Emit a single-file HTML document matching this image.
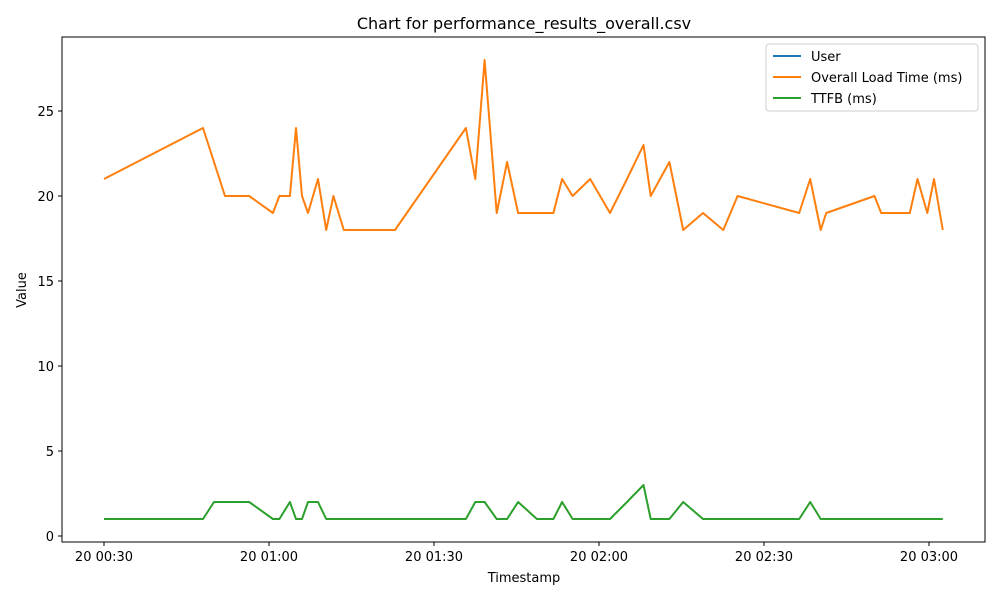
<!DOCTYPE html>
<html><head><meta charset="utf-8"><style>
html,body{margin:0;padding:0;background:#fff;}
svg text{font-family:"DejaVu Sans","Liberation Sans",sans-serif;fill:#000;}
</style></head><body>
<svg id="chart" width="1000" height="600" xmlns="http://www.w3.org/2000/svg">
<rect width="1000" height="600" fill="#fff"/>
<text x="524" y="29" font-size="16" text-anchor="middle">Chart for performance_results_overall.csv</text>
<g id="plot"></g>
<rect x="62" y="37" width="923" height="505" fill="none" stroke="#000" stroke-width="1"/>
<text x="524" y="582" font-size="13" text-anchor="middle">Timestamp</text>
<text x="26" y="290" font-size="13" text-anchor="middle" transform="rotate(-90 26 290)">Value</text>
<g>
<rect x="766" y="44" width="212" height="67" rx="3" fill="#fff" fill-opacity="0.8" stroke="#ccc"/>
<g><line x1="773" y1="56" x2="801" y2="56" stroke="#1f77b4" stroke-width="2"/><text x="811" y="61" font-size="13">User</text></g>
<g><line x1="773" y1="77" x2="801" y2="77" stroke="#ff7f0e" stroke-width="2"/><text x="811" y="82" font-size="13">Overall Load Time (ms)</text></g>
<g><line x1="773" y1="98" x2="801" y2="98" stroke="#2ca02c" stroke-width="2"/><text x="811" y="103" font-size="13">TTFB (ms)</text></g>
</g>
</svg>
<script>
const minutes=[30,48,50,52,56.4,60.7,61.9,63.8,64.9,66,67.1,68.9,70.4,71.7,73.6,82.9,95.8,97.5,99.2,101.4,103.3,105.3,108.7,111.7,113.3,115.2,118.4,122,125.1,128.1,129.4,132.8,135.3,138.9,142.6,145.2,156.4,158.4,160.3,161.3,170.1,171.3,176.5,177.9,179.7,180.9,182.5];
const loadTime=[21,24,22,20,20,19,20,20,24,20,19,21,18,20,18,18,24,21,28,19,22,19,19,19,21,20,21,19,21,23,20,22,18,19,18,20,19,21,18,19,20,19,19,21,19,21,18];
const ttfb=[1,1,2,2,2,1,1,2,1,1,2,2,1,1,1,1,1,2,2,1,1,2,1,1,2,1,1,1,2,3,1,1,2,1,1,1,1,2,1,1,1,1,1,1,1,1,1];
const yTicks=[0,5,10,15,20,25];
const xTickMinutes=[30,60,90,120,150,180];
const xTickLabels=["20 00:30","20 01:00","20 01:30","20 02:00","20 02:30","20 03:00"];
const NS="http://www.w3.org/2000/svg";
const g=document.getElementById('plot');
function xs(m){return 104+(m-30)*5.5;}
function ys(v){return 536-v*17;}
function mk(t,a){const e=document.createElementNS(NS,t);for(const k in a)e.setAttribute(k,a[k]);g.appendChild(e);return e;}
yTicks.forEach(v=>{
  const l=mk('line',{x1:58,x2:62,y1:ys(v),y2:ys(v),stroke:'#000'});
  
  
  const t=mk('text',{x:54,y:ys(v)+5,'font-size':13,'text-anchor':'end'});
  t.textContent=v;
  
  
});
xTickMinutes.forEach((m,i)=>{
  const l=mk('line',{x1:xs(m),x2:xs(m),y1:542,y2:546,stroke:'#000'});
  
  
  const t=mk('text',{x:xs(m),y:561,'font-size':13,'text-anchor':'middle'});
  t.textContent=xTickLabels[i];
  
  
});
function line(vals,color,name){
  const d=vals.map((v,i)=>(i?'L':'M')+xs(minutes[i]).toFixed(1)+' '+ys(v).toFixed(1)).join(' ');
  const p=mk('path',{d:d,fill:'none',stroke:color,'stroke-width':2,'stroke-linejoin':'round'});
  
  
}
line(ttfb,'#2ca02c','ttfb-line');
line(loadTime,'#ff7f0e','load-time-line');
</script>
</body></html>
